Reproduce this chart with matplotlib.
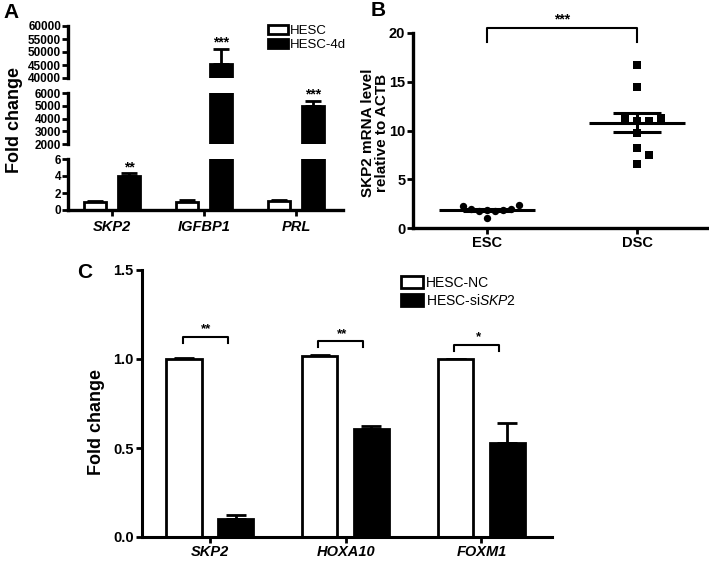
import matplotlib
matplotlib.use('Agg')
import matplotlib.pyplot as plt
import numpy as np
from matplotlib.patches import Patch

plt.rcParams['font.family'] = ['Liberation Sans', 'DejaVu Sans']
plt.rcParams['mathtext.fontset'] = 'custom'
plt.rcParams['mathtext.it'] = 'Liberation Sans:italic'
plt.rcParams['mathtext.rm'] = 'Liberation Sans'

# ---------------- Panel A data ----------------
a_genes = ['SKP2', 'IGFBP1', 'PRL']
a_series = ['HESC', 'HESC-4d']
a_hesc = [1.0, 1.0, 1.05]
a_hesc_err = [0.05, 0.12, 0.12]
a_4d = [4.0, 45500, 4950]
a_4d_err = [0.35, 5500, 420]
a_sig = ['**', '***', '***']
a_sig_y = [5.0, 53500, 5850]
a_seg_limits = [(0, 6), (2000, 6000), (40000, 60000)]
a_seg_ticks = [[0, 2, 4, 6], [2000, 3000, 4000, 5000, 6000],
               [40000, 45000, 50000, 55000, 60000]]

# ---------------- Panel B data ----------------
b_groups = ['ESC', 'DSC']
b_esc = [2.4, 2.0, 1.0, 2.25, 1.8, 1.75, 1.7, 1.85, 1.9]
b_dsc = [16.7, 14.5, 11.3, 11.0, 11.0, 11.3, 9.7, 8.2, 7.5, 6.6]
b_sig = '***'
b_yticks = [0, 5, 10, 15, 20]

# ---------------- Panel C data ----------------
c_genes = ['SKP2', 'HOXA10', 'FOXM1']
c_series = ['HESC-NC', 'HESC-si$\\mathit{SKP2}$']
c_nc = [1.0, 1.015, 1.0]
c_nc_err = [0.003, 0.006, 0.0]
c_si = [0.10, 0.605, 0.53]
c_si_err = [0.022, 0.017, 0.11]
c_sig = ['**', '**', '*']
c_yticks = [0.0, 0.5, 1.0, 1.5]

W, H = 709, 562
fig = plt.figure(figsize=(W / 100, H / 100), dpi=100)


def frac(x0, y0, x1, y1):
    return [x0 / W, 1 - y1 / H, (x1 - x0) / W, (y1 - y0) / H]


LW = 2.0

# ---------------- Panel A ----------------
a_rects = [frac(68, 159, 343, 210), frac(68, 93, 343, 144), frac(68, 26, 343, 78)]
xa = np.arange(len(a_genes))
off_a, wa = 0.185, 0.24
a_axes = []
for k, (rect, lim, ticks) in enumerate(zip(a_rects, a_seg_limits, a_seg_ticks)):
    ax = fig.add_axes(rect)
    a_axes.append(ax)
    ax.bar(xa - off_a, a_hesc, wa, color='white', edgecolor='black', linewidth=LW, zorder=2)
    ax.bar(xa + off_a, a_4d, wa, color='black', edgecolor='black', linewidth=LW, zorder=2)
    ax.errorbar(xa - off_a, a_hesc, yerr=[np.zeros(3), a_hesc_err], fmt='none',
                ecolor='black', elinewidth=LW, capsize=6, capthick=LW, zorder=1)
    ax.errorbar(xa + off_a, a_4d, yerr=[np.zeros(3), a_4d_err], fmt='none',
                ecolor='black', elinewidth=LW, capsize=6, capthick=LW, zorder=1)
    ax.set_ylim(*lim)
    ax.set_xlim(-0.48, 2.51)
    ax.set_yticks(ticks)
    ax.set_yticklabels([str(t) for t in ticks], fontsize=8.5, fontweight='bold')
    for s in ['top', 'right']:
        ax.spines[s].set_visible(False)
    ax.spines['left'].set_linewidth(2.4)
    ax.tick_params(axis='y', width=2.0, length=4, pad=1)
    if k == 0:
        ax.spines['bottom'].set_linewidth(2.4)
        ax.set_xticks(xa)
        ax.set_xticklabels(a_genes, fontsize=10.5, fontweight='bold', fontstyle='italic')
        ax.tick_params(axis='x', width=2.0, length=4, pad=3)
    else:
        ax.spines['bottom'].set_visible(False)
        ax.set_xticks([])
    ax.patch.set_visible(False)

for i, (s, yv) in enumerate(zip(a_sig, a_sig_y)):
    for ax, lim in zip(a_axes, a_seg_limits):
        if lim[0] <= yv <= lim[1]:
            ax.text(xa[i] + off_a, yv, s, ha='center', va='center', fontsize=10,
                    fontweight='bold')

a_handles = [Patch(facecolor='white', edgecolor='black', linewidth=LW),
             Patch(facecolor='black', edgecolor='black', linewidth=LW)]
fig.legend(a_handles, a_series, loc='upper left', bbox_to_anchor=(268 / W, 1 - 25 / H),
           frameon=False, fontsize=9.5, handlelength=1.5, handleheight=0.7,
           handletextpad=0.15, labelspacing=0.15, borderpad=0, borderaxespad=0)

fig.text(15 / W, 1 - 120 / H, 'Fold change', rotation=90, ha='center', va='center',
         fontsize=13, fontweight='bold')
fig.text(3 / W, 1 - 13 / H, 'A', ha='left', va='center', fontsize=15, fontweight='bold')

# ---------------- Panel B ----------------
axb = fig.add_axes(frac(413, 33, 708, 228))
axb.set_xlim(-0.49, 1.47)
axb.set_ylim(0, 20)
px_x = 150.0      # pixels per x unit
px_y = 9.72       # pixels per y unit


def swarm(values, spacing):
    order = np.argsort(values)
    placed = []
    offs = np.zeros(len(values))
    for idx in order:
        y = values[idx] * px_y
        k = 0
        res = None
        while res is None:
            cands = [0.0] if k == 0 else [k * spacing, -k * spacing]
            for c in cands:
                if all((c - p) ** 2 + (y - q) ** 2 >= spacing ** 2 for p, q in placed):
                    res = c
                    break
            k += 1
        placed.append((res, y))
        offs[idx] = res / px_x
    return offs


esc = np.array(b_esc)
dsc = np.array(b_dsc)
axb.scatter(0 + swarm(esc, 8.0), esc, s=28, marker='o', color='black', zorder=3,
            linewidths=0)
axb.scatter(1 + swarm(dsc, 12.0), dsc, s=36, marker='s', color='black', zorder=3,
            linewidths=0)
for i, d in enumerate([esc, dsc]):
    m = d.mean()
    sem = d.std(ddof=1) / np.sqrt(len(d))
    axb.hlines(m, i - 0.32, i + 0.32, color='black', lw=2.2, zorder=4)
    axb.hlines([m - sem, m + sem], i - 0.16, i + 0.16, color='black', lw=2.2, zorder=4)
    axb.vlines(i, m - sem, m + sem, color='black', lw=2.2, zorder=4)

axb.plot([0, 0, 1, 1], [19.05, 20.5, 20.5, 19.05], color='black', lw=1.5,
         clip_on=False)
axb.text(0.5, 20.65, b_sig, ha='center', va='bottom', fontsize=10, fontweight='bold')
axb.set_xticks([0, 1])
axb.set_xticklabels(b_groups, fontsize=10.5, fontweight='bold')
axb.set_yticks(b_yticks)
axb.set_yticklabels([str(t) for t in b_yticks], fontsize=10.5, fontweight='bold')
for s in ['top', 'right']:
    axb.spines[s].set_visible(False)
for s in ['left', 'bottom']:
    axb.spines[s].set_linewidth(2.4)
axb.tick_params(width=2.0, length=4, pad=1.5)
axb.patch.set_visible(False)
fig.text(375 / W, 1 - 133 / H, 'SKP2 mRNA level\nrelative to ACTB', rotation=90,
         ha='center', va='center', fontsize=11, fontweight='bold', linespacing=0.95)
fig.text(371 / W, 1 - 11 / H, 'B', ha='left', va='center', fontsize=15, fontweight='bold')

# ---------------- Panel C ----------------
axc = fig.add_axes(frac(142, 270, 552, 537))
xc = np.arange(len(c_genes))
off_c, wc = 0.19, 0.26
axc.bar(xc - off_c, c_nc, wc, color='white', edgecolor='black', linewidth=LW, zorder=2)
axc.bar(xc + off_c, c_si, wc, color='black', edgecolor='black', linewidth=LW, zorder=2)
axc.errorbar(xc - off_c, c_nc, yerr=[np.zeros(3), c_nc_err], fmt='none', ecolor='black',
             elinewidth=LW, capsize=7, capthick=LW, zorder=1)
axc.errorbar(xc + off_c, c_si, yerr=[np.zeros(3), c_si_err], fmt='none', ecolor='black',
             elinewidth=LW, capsize=7, capthick=LW, zorder=1)
axc.set_xlim(-0.5, 2.52)
axc.set_ylim(0, 1.5)
axc.set_yticks(c_yticks)
axc.set_yticklabels(['%.1f' % t for t in c_yticks], fontsize=10.5, fontweight='bold')
axc.set_xticks(xc)
axc.set_xticklabels(c_genes, fontsize=10.5, fontweight='bold', fontstyle='italic')
for s in ['top', 'right']:
    axc.spines[s].set_visible(False)
for s in ['left', 'bottom']:
    axc.spines[s].set_linewidth(2.2)
axc.tick_params(width=2.0, length=4, pad=2)
axc.patch.set_visible(False)

c_br_top = [1.124, 1.10, 1.08]
for i, s in enumerate(c_sig):
    top = c_br_top[i]
    axc.plot([i - 0.20, i - 0.20, i + 0.13, i + 0.13], [top - 0.033, top, top, top - 0.033],
             color='black', lw=1.5)
    axc.text(i - 0.025, top + 0.008, s, ha='center', va='bottom', fontsize=9.5,
             fontweight='bold')

c_handles = [Patch(facecolor='white', edgecolor='black', linewidth=LW),
             Patch(facecolor='black', edgecolor='black', linewidth=LW)]
fig.legend(c_handles, c_series, loc='upper left', bbox_to_anchor=(401 / W, 1 - 276 / H),
           frameon=False, fontsize=10, handlelength=1.6, handleheight=0.9,
           handletextpad=0.2, labelspacing=0.2, borderpad=0, borderaxespad=0)

fig.text(96 / W, 1 - 422 / H, 'Fold change', rotation=90, ha='center', va='center',
         fontsize=13, fontweight='bold')
fig.text(77 / W, 1 - 272 / H, 'C', ha='left', va='center', fontsize=15, fontweight='bold')

fig.savefig('out.png', dpi=100)
